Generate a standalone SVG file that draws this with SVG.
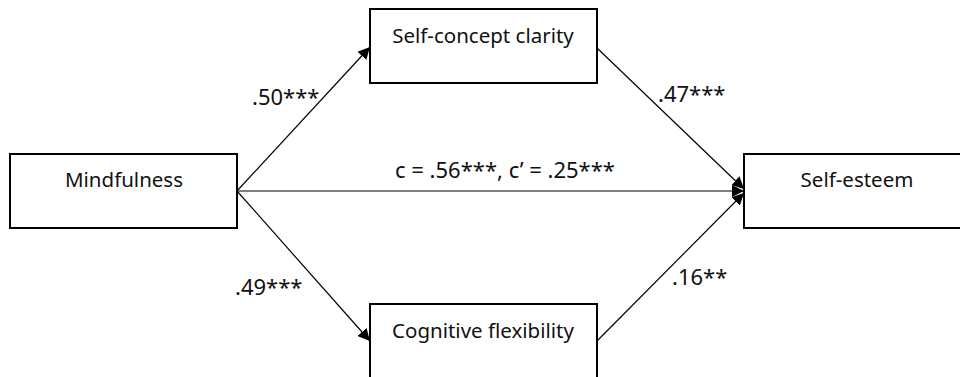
<svg xmlns="http://www.w3.org/2000/svg" width="960" height="377" viewBox="0 0 960 377">
<defs>
<style>
.box{fill:#fff;stroke:#000;stroke-width:2}
.lbl{font-family:"Noto Sans","Open Sans",sans-serif;font-size:20.5px;fill:#111;text-anchor:middle}
.coef{font-family:"Noto Sans","Open Sans",sans-serif;font-size:22px;fill:#111}
.edge{stroke:#000;stroke-width:1.2;fill:none}
</style>
<marker id="ah" viewBox="0 0 10 10" refX="10" refY="5" markerWidth="12" markerHeight="12" markerUnits="userSpaceOnUse" orient="auto">
<path d="M0,0 L10,5 L0,10 z" fill="#000"/>
</marker>
</defs>
<rect width="960" height="377" fill="#fff"/>
<g id="connectors">
<line class="edge" x1="237" y1="191" x2="370" y2="47" marker-end="url(#ah)"/>
<line class="edge" x1="237" y1="191" x2="370" y2="341" marker-end="url(#ah)"/>
<line class="edge" x1="237" y1="191" x2="744" y2="191" marker-end="url(#ah)" stroke="#444"/>
<line class="edge" x1="597" y1="48" x2="744" y2="189" marker-end="url(#ah)"/>
<line class="edge" x1="597" y1="341" x2="744" y2="193" marker-end="url(#ah)"/>
<text class="coef" x="252" y="105">.50***</text>
<text class="coef" x="235" y="295">.49***</text>
<text class="coef" x="658" y="102">.47***</text>
<text class="coef" x="672" y="285">.16**</text>
<text class="coef" x="505" y="178" text-anchor="middle">c = .56***, c’ = .25***</text>
</g>
<g id="mindfulness">
<rect class="box" x="10" y="154" width="227" height="74"/>
<text class="lbl" x="124" y="187">Mindfulness</text>
</g>
<g id="self-concept-clarity">
<rect class="box" x="370" y="9" width="227" height="74"/>
<text class="lbl" x="483" y="43">Self-concept clarity</text>
</g>
<g id="cognitive-flexibility">
<rect class="box" x="370" y="304" width="227" height="80"/>
<text class="lbl" x="483" y="338">Cognitive flexibility</text>
</g>
<g id="self-esteem">
<rect class="box" x="744" y="154" width="230" height="74"/>
<text class="lbl" x="857" y="187">Self-esteem</text>
</g>
</svg>
